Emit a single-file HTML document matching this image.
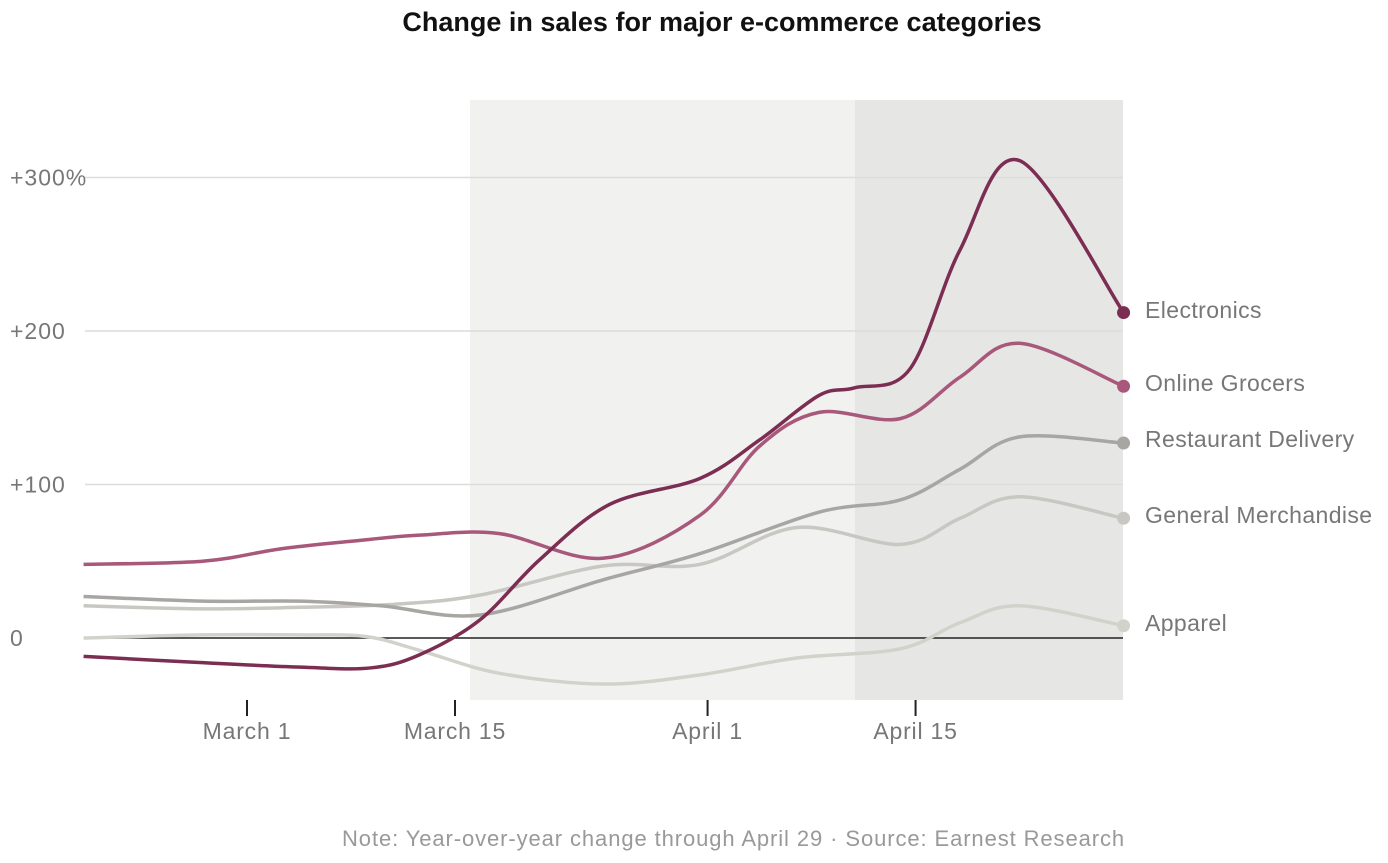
<!DOCTYPE html>
<html><head><meta charset="utf-8"><style>
body{margin:0;background:#fff;font-family:"Liberation Sans",sans-serif}
svg text{font-family:"Liberation Sans",sans-serif}
</style></head><body>
<svg id="chart" width="1388" height="858" viewBox="0 0 1388 858">
<text x="722" y="31" text-anchor="middle" font-size="27" font-weight="bold" fill="#111">Change in sales for major e-commerce categories</text>
<rect x="470" y="100" width="385" height="600" fill="#f1f1ef"/>
<rect x="855" y="100" width="268" height="600" fill="#e6e6e4"/>
<g id="grid"></g><g id="lines"></g><g id="labels"></g>
<text x="1125" y="846" text-anchor="end" font-size="22" letter-spacing="0.9" fill="#999">Note: Year-over-year change through April 29 · Source: Earnest Research</text>
</svg>
<script>
const yTicks=[0,100,200,300];
const yTickLabels=["0","+100","+200","+300%"];
const xTickDays=[0,14,31,45];
const xTickLabels=["March 1","March 15","April 1","April 15"];
const seriesNames=["Apparel","General Merchandise","Restaurant Delivery","Online Grocers","Electronics"];
const seriesColors=["#d3d2ca","#c8c7c2","#a8a6a3","#a8587a","#7b2d52"];
const apparelDays=[-11,-3,3.6,8,11.6,17,24,30.5,37,44,48,52,59];
const apparelValues=[0,2,2,1,-8,-23,-30,-24,-13,-7,10,21,8];
const generalDays=[-11,-3,3.6,10,15.7,24,30.5,37,44,48,52,59];
const generalValues=[21,19,20,22,28,47,48,72,61,78,92,78];
const restaurantDays=[-11,-3,3.6,9,15.7,24,30.5,38.5,44,48,52,59];
const restaurantValues=[27,24,24,21,15,38,55,82,90,110,131,127];
const grocersDays=[-11,-3,2.2,7,11.6,17,24,30.5,34.5,38.5,44,48,52,59];
const grocersValues=[48,50,58,63,67,68,52,80,125,147,143,170,192,164];
const electronicsDays=[-11,-3.2,3.6,8.3,11.6,15.7,19.7,24.4,30.5,34.5,38.5,40.9,44.6,48,52,59];
const electronicsValues=[-12,-16,-19,-19.5,-11,12,51,87,104,129,158,163,175,253,311,212];
const allDays=[apparelDays,generalDays,restaurantDays,grocersDays,electronicsDays];
const allValues=[apparelValues,generalValues,restaurantValues,grocersValues,electronicsValues];
const labelY=[623,515,439,383,310];
const X=d=>247+d*14.857, Y=v=>638-v*1.535;
const NS="http://www.w3.org/2000/svg";
function mk(t,a,p){const e=document.createElementNS(NS,t);for(const k in a)e.setAttribute(k,a[k]);p.appendChild(e);return e;}
const grid=document.getElementById('grid'),lines=document.getElementById('lines'),labels=document.getElementById('labels');
yTicks.forEach((v,i)=>{
 if(v!==0){const l=mk('line',{x1:85,x2:1123,y1:Y(v),y2:Y(v),stroke:'#dcdcdc','stroke-width':1.5},grid);
 
 }
 const t=mk('text',{x:10,y:Y(v)+8,'font-size':23,'letter-spacing':1,fill:'#777'},labels);t.textContent=yTickLabels[i];
 
 
});
const z=mk('line',{x1:85,x2:1123,y1:Y(0),y2:Y(0),stroke:'#222','stroke-width':1.5},grid);


xTickDays.forEach((d,i)=>{
 const l=mk('line',{x1:X(d),x2:X(d),y1:700,y2:716,stroke:'#222','stroke-width':2},grid);
 
 
 const t=mk('text',{x:X(d),y:739,'text-anchor':'middle','font-size':23,'letter-spacing':0.8,fill:'#777'},labels);t.textContent=xTickLabels[i];
 
 
});
function smooth(pts){let d=`M${pts[0][0]},${pts[0][1]}`;
 for(let i=0;i<pts.length-1;i++){const p0=pts[i-1]||pts[i],p1=pts[i],p2=pts[i+1],p3=pts[i+2]||p2;
  const c1=[p1[0]+(p2[0]-p0[0])/6,p1[1]+(p2[1]-p0[1])/6],c2=[p2[0]-(p3[0]-p1[0])/6,p2[1]-(p3[1]-p1[1])/6];
  d+=`C${c1[0]},${c1[1]} ${c2[0]},${c2[1]} ${p2[0]},${p2[1]}`;}return d;}
seriesNames.forEach((n,i)=>{
 const pts=allDays[i].map((d,j)=>[X(d),Y(allValues[i][j])]);
 const p=mk('path',{d:smooth(pts),fill:'none',stroke:seriesColors[i],'stroke-width':3.5},lines);
 
 
 const last=pts[pts.length-1];
 const c=mk('circle',{cx:last[0],cy:last[1],r:6.5,fill:seriesColors[i]},lines);
 
 
 const t=mk('text',{x:1145,y:labelY[i]+8,'font-size':23,'letter-spacing':0.4,fill:'#777'},labels);t.textContent=n;
 
 
});
</script>
</body></html>
